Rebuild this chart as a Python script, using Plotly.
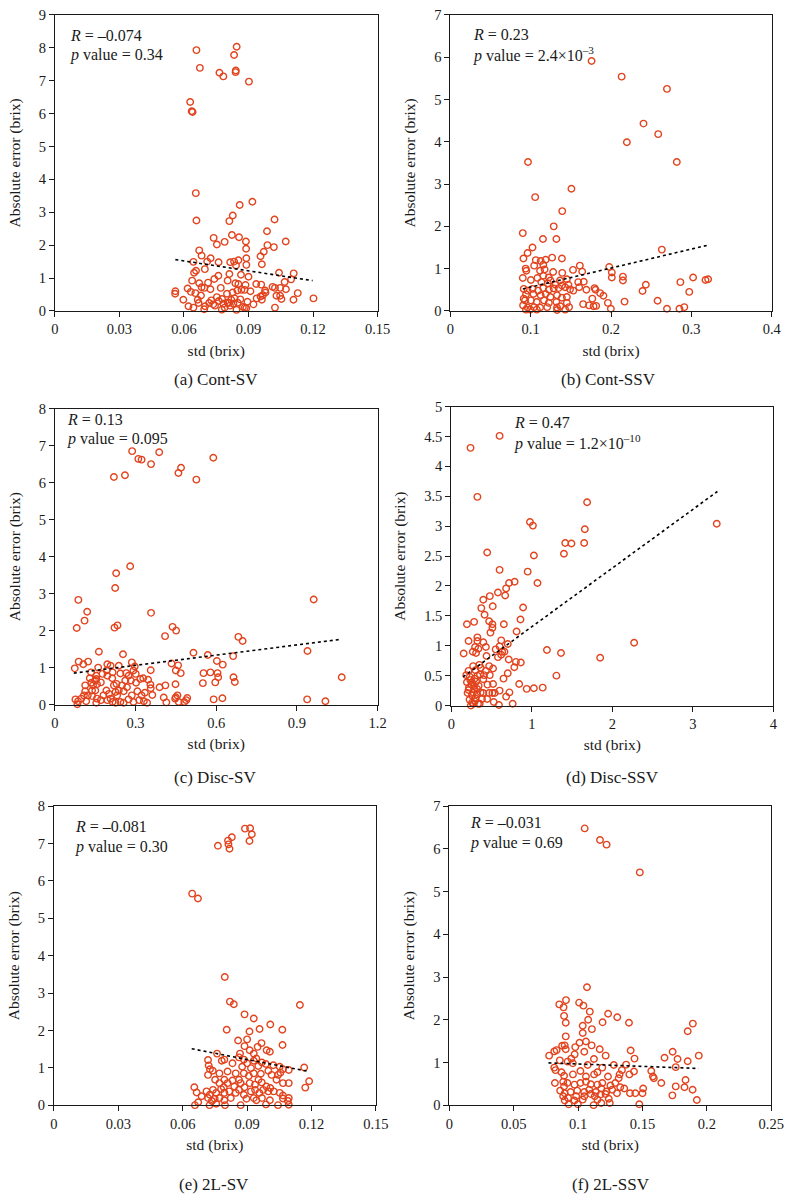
import plotly.graph_objects as go

# ---------------- data ----------------
a_points = [(0.0658,7.93),(0.0674,7.39),(0.0845,8.03),(0.0833,7.78),(0.0841,7.31),(0.0840,7.26),(0.0765,7.24),(0.0783,7.13),(0.0902,6.97),(0.0629,6.35),(0.0636,6.07),(0.0640,6.05),
 (0.0655,3.58),(0.0658,2.75),(0.0859,3.22),(0.0918,3.32),(0.0827,2.90),(0.0811,2.73),(0.1021,2.78),(0.0823,2.31),(0.0738,2.22),(0.0753,2.02),(0.0789,2.10),(0.0856,2.24),(0.0888,2.11),(0.0889,1.89),(0.0986,2.42),(0.0988,2.00),(0.1018,1.94),(0.1073,2.11),
 (0.0671,1.84),(0.0682,1.68),(0.0971,1.80),(0.0956,1.66),(0.0890,1.60),(0.0724,1.60),(0.0708,1.50),(0.0761,1.48),(0.0644,1.49),(0.0815,1.48),(0.0833,1.50),(0.0853,1.54),(0.0962,1.42),(0.0890,1.40),(0.0842,1.38),
 (0.0656,1.22),(0.0647,1.16),(0.0697,1.27),(0.0865,1.10),(0.0900,1.04),(0.0811,1.12),(0.0803,0.92),(0.1042,1.16),(0.1110,1.14),(0.1098,0.96),(0.1068,0.88),(0.0638,0.92),(0.0671,0.84),(0.0712,0.86),(0.0839,0.84),(0.0853,0.82),(0.0741,0.97),(0.0760,1.07),(0.0886,0.79),(0.0936,0.82),(0.0959,0.80),
 (0.0617,0.68),(0.0560,0.60),(0.0559,0.52),(0.0653,0.54),(0.0632,0.58),(0.0682,0.72),(0.0695,0.70),(0.0723,0.66),(0.0771,0.70),(0.0800,0.52),(0.0826,0.56),(0.0848,0.62),(0.0867,0.64),(0.0909,0.60),(0.0882,0.64),(0.0977,0.62),(0.1012,0.73),(0.1023,0.70),(0.1047,0.70),(0.1074,0.66),(0.0979,0.56),(0.0967,0.48),(0.0956,0.44),(0.1030,0.46),(0.1047,0.46),(0.1129,0.54),(0.1202,0.38),(0.1109,0.34),(0.1053,0.36),(0.0962,0.34),(0.0938,0.38),(0.0597,0.34),(0.0679,0.47),
 (0.0621,0.14),(0.0644,0.10),(0.0664,0.34),(0.0668,0.24),(0.0698,0.14),(0.0717,0.24),(0.0727,0.32),(0.0736,0.20),(0.0753,0.42),(0.0762,0.30),(0.0777,0.36),(0.0783,0.22),(0.0803,0.26),(0.0814,0.16),(0.0820,0.34),(0.0830,0.22),(0.0835,0.38),(0.0850,0.25),(0.0862,0.35),(0.0874,0.12),(0.0883,0.10),(0.0890,0.08),(0.0895,0.28),(0.0923,0.20),(0.1023,0.10),(0.0694,0.05),(0.0776,0.04),(0.0844,0.03),(0.0744,0.16),(0.0789,0.10),(0.0809,0.24)]

b_points = [(0.1758,5.91),(0.2132,5.54),(0.2696,5.25),(0.2404,4.43),(0.2587,4.18),(0.2197,3.99),(0.0967,3.52),(0.2818,3.52),(0.1507,2.89),(0.1056,2.69),(0.1393,2.36),(0.1287,2.00),(0.0902,1.84),(0.1153,1.70),(0.1320,1.70),(0.1023,1.50),(0.0962,1.37),(0.2632,1.45),(0.0910,1.24),(0.1267,1.26),(0.1389,1.24),(0.1064,1.20),(0.1186,1.21),(0.1612,1.07),(0.1978,1.04),(0.0938,1.00),(0.0946,0.95),(0.1527,0.97),(0.1641,0.93),(0.2010,0.91),(0.2010,0.79),(0.2148,0.81),(0.2148,0.72),(0.3021,0.79),(0.2863,0.68),(0.3175,0.73),(0.3208,0.75),(0.2433,0.62),(0.2392,0.47),(0.2973,0.45),(0.2579,0.24),(0.2168,0.22),(0.1998,0.05),(0.2696,0.05),(0.2851,0.05),(0.2912,0.09),(0.1961,0.19),
 (0.1125,1.18),(0.1044,1.07),(0.1157,1.09),(0.1117,0.95),(0.1174,0.98),(0.1280,0.92),(0.1393,0.90),(0.0902,0.78),(0.1003,0.73),(0.1084,0.78),(0.1157,0.83),(0.1226,0.79),(0.1246,0.72),(0.1365,0.72),(0.1450,0.75),(0.1133,0.68),(0.1214,0.65),(0.1308,0.62),(0.1389,0.60),(0.1470,0.62),(0.1592,0.68),(0.1661,0.69),(0.1604,0.56),
 (0.0914,0.52),(0.0962,0.48),(0.1023,0.52),(0.1092,0.48),(0.1157,0.54),(0.1226,0.50),(0.1287,0.53),(0.1348,0.54),(0.1429,0.56),(0.1490,0.51),(0.1531,0.48),(0.1693,0.50),(0.1795,0.54),(0.1807,0.50),(0.1864,0.42),(0.1905,0.36),(0.1767,0.29),
 (0.0942,0.39),(0.1035,0.40),(0.1125,0.37),(0.1186,0.40),(0.1246,0.33),(0.1328,0.37),(0.1389,0.31),(0.1450,0.33),(0.0914,0.29),(0.0930,0.25),(0.1003,0.25),(0.1076,0.21),(0.1166,0.25),(0.1226,0.19),(0.1320,0.21),(0.1450,0.19),(0.1653,0.16),(0.1726,0.13),(0.1783,0.11),(0.1815,0.12),
 (0.0906,0.13),(0.0962,0.08),(0.1044,0.09),(0.1117,0.08),(0.1206,0.09),(0.1328,0.08),(0.1369,0.11),(0.1478,0.09),(0.0942,0.03),(0.0995,0.03),(0.1076,0.03),(0.1328,0.02),(0.1429,0.03)]

c_points = [(0.2873,6.85),(0.3879,6.82),(0.3103,6.64),(0.3224,6.62),(0.5891,6.67),(0.3576,6.50),(0.4691,6.40),(0.4594,6.26),(0.2606,6.20),(0.2194,6.15),(0.5261,6.08),(0.2800,3.74),(0.2279,3.55),(0.2242,3.15),(0.0873,2.83),(0.9624,2.84),(0.1200,2.51),(0.3576,2.48),(0.1103,2.27),(0.0812,2.07),(0.2218,2.08),(0.2327,2.14),(0.4376,2.10),(0.4509,2.00),(0.4097,1.85),(0.6824,1.83),(0.6982,1.72),(0.9394,1.45),(1.0667,0.74),(0.1636,1.43),(0.2533,1.36),(0.5152,1.40),(0.5685,1.34),(0.6630,1.31),(0.9382,0.14),(1.0060,0.09),(0.5903,0.14),(0.6230,0.17),
 (0.4339,1.11),(0.4582,1.06),(0.4497,0.92),(0.4679,0.85),(0.6024,1.18),(0.6242,1.08),(0.6048,0.85),(0.5527,0.85),(0.5782,0.87),(0.6073,0.74),(0.6642,0.74),(0.6691,0.61),(0.5964,0.60),(0.5503,0.58),
 (0.3891,0.47),(0.4109,0.52),(0.4485,0.55),(0.4497,0.20),(0.4558,0.25),(0.4473,0.16),(0.4606,0.07),(0.4812,0.07),(0.4885,0.12),(0.4921,0.18),(0.4048,0.19),(0.4145,0.06),(0.3624,0.26),(0.3564,0.44),(0.3467,0.67),(0.3552,0.54),(0.3176,0.69),(0.3285,0.71),(0.3006,0.83),(0.3564,0.93),
 (0.0739,0.98),(0.0885,1.16),(0.1055,1.09),(0.1236,1.16),(0.1610,1.00),(0.1950,1.09),(0.2073,1.05),(0.2376,1.05),(0.2861,1.14),(0.2970,1.03),(0.1927,0.92),(0.2145,0.87),(0.2436,0.84),(0.2655,0.85),(0.2921,0.92),
 (0.0764,0.14),(0.0861,0.09),(0.0836,0.01),(0.0982,0.16),(0.1127,0.52),(0.1127,0.36),(0.1164,0.09),(0.1297,0.71),(0.1358,0.59),(0.1418,0.52),(0.1503,0.65),(0.1539,0.78),(0.1539,0.69),(0.1564,0.55),(0.1503,0.38),(0.1382,0.23),(0.1564,0.16),(0.1539,0.05),(0.1806,0.25),(0.1709,0.12),(0.1915,0.38),(0.2012,0.29),(0.2073,0.16),(0.2145,0.07),(0.2255,0.34),(0.2315,0.25),(0.2376,0.38),(0.2436,0.07),(0.2497,0.52),(0.2558,0.36),(0.2618,0.65),(0.2679,0.47),(0.2739,0.14),(0.2861,0.25),(0.2921,0.07),(0.3018,0.59),(0.3067,0.36),(0.3139,0.12),(0.3224,0.25),(0.3309,0.09),(0.3430,0.05),(0.3345,0.32),(0.1709,0.60),(0.2133,0.71),(0.1952,0.78),(0.1770,0.83),(0.1345,0.87),(0.1382,0.38),(0.1224,0.25),(0.2194,0.52),(0.2291,0.56),(0.2739,0.78),(0.2824,0.65),(0.1952,0.12),(0.2255,0.05),(0.2558,0.05),(0.1079,0.25)]

d_points = [(0.6004,4.51),(0.2394,4.31),(0.3245,3.49),(1.6876,3.40),(0.9777,3.07),(1.0142,3.01),(3.2980,3.04),(1.6592,2.95),(1.4158,2.72),(1.4929,2.71),(1.6511,2.72),(1.3996,2.54),(1.0264,2.51),(0.4462,2.56),(0.6004,2.27),(0.9493,2.24),(1.0710,2.05),(0.7870,2.07),(0.7181,2.05),(0.6815,1.96),(0.5801,1.89),(0.4787,1.83),(0.6694,1.84),(0.3976,1.77),(0.5152,1.66),(0.3732,1.63),(0.8925,1.64),(0.4138,1.52),(0.8600,1.44),(2.2718,1.05),(1.1886,0.93),(1.3631,0.88),(1.8499,0.80),(1.3063,0.50),(0.8438,0.36),(0.9371,0.28),(1.0264,0.29),(1.1359,0.30),(0.8114,1.24),
 (0.1947,1.36),(0.2840,1.40),(0.2150,1.08),(0.1540,0.87),(0.2678,0.90),(0.2961,0.98),(0.3245,1.14),(0.3245,1.08),(0.3083,0.88),(0.3367,0.95),(0.3976,1.06),(0.4300,0.98),(0.4706,1.41),(0.5112,1.36),(0.5112,1.30),(0.4868,1.22),(0.6207,1.09),(0.6531,1.36),(0.7018,1.03),(0.5517,0.94),(0.6004,0.99),(0.6329,0.90),(0.6613,0.90),(0.6207,0.85),(0.5801,0.81),(0.7140,0.77),(0.8032,0.73),(0.8640,0.72),(0.7829,0.64),(0.7018,0.54),(0.6491,0.45),(0.7221,0.22),(0.6815,0.15),
 (0.4381,0.83),(0.4706,0.66),(0.5192,0.62),(0.4300,0.58),(0.4057,0.51),(0.4787,0.51),(0.4503,0.35),(0.5192,0.36),(0.4706,0.21),(0.5112,0.21),(0.5396,0.21),(0.6004,0.25),(0.5274,0.06),(0.5923,0.01),(0.7627,0.03),(0.3489,0.68),(0.3651,0.63),(0.2150,0.58),(0.1866,0.51),(0.1947,0.39),(0.2353,0.43),(0.2718,0.66),(0.3002,0.59),(0.3245,0.50),(0.3570,0.52),(0.3976,0.44),(0.3408,0.33),(0.2840,0.28),(0.2150,0.26),(0.2029,0.21),(0.2556,0.17),(0.3164,0.19),(0.3651,0.22),(0.3976,0.21),(0.2272,0.10),(0.2921,0.07),(0.3326,0.03),(0.2434,0.00),(0.2840,0.33),(0.2556,0.39),(0.3083,0.40),(0.4462,0.11),(0.3530,0.03),(0.3814,0.11),(0.2759,0.03),
 (0.2200,0.30),(0.2500,0.35),(0.2700,0.22),(0.3000,0.12),(0.2600,0.05),(0.3200,0.28),(0.2300,0.48),(0.2900,0.45)]

e_points = [(0.0890,7.40),(0.0914,7.41),(0.0922,7.25),(0.0911,7.07),(0.0829,7.17),(0.0811,7.08),(0.0813,6.98),(0.0818,6.86),(0.0764,6.94),(0.0644,5.66),(0.0671,5.53),(0.0796,3.43),(0.0820,2.77),(0.0838,2.70),(0.1146,2.68),(0.0888,2.43),(0.0931,2.32),(0.1008,2.16),(0.0805,2.02),(0.0958,2.04),(0.1064,2.02),(0.0911,1.97),(0.1065,1.61),
 (0.0900,1.76),(0.0858,1.73),(0.0967,1.66),(0.0949,1.56),(0.0888,1.58),(0.0991,1.47),(0.1006,1.43),(0.0912,1.47),(0.0931,1.38),(0.0867,1.38),(0.0862,1.28),(0.0943,1.25),(0.0969,1.14),(0.0760,1.38),(0.0782,1.19),(0.0794,1.22),(0.0832,1.12),(0.0885,1.22),(0.0900,1.12),(0.0931,1.19),(0.0877,1.03),(0.0918,0.99),(0.0952,1.05),(0.0987,1.10),(0.1022,1.07),(0.1052,1.03),(0.1067,0.96),(0.1094,0.94),(0.1166,1.01),
 (0.0718,1.21),(0.0721,1.06),(0.0727,0.96),(0.0718,0.81),(0.0740,0.92),(0.0771,0.85),(0.0794,0.68),(0.0809,0.90),(0.0847,0.85),(0.0862,0.68),(0.0885,0.85),(0.0908,0.78),(0.0931,0.85),(0.0964,0.84),(0.0999,0.92),(0.1014,0.81),(0.1044,0.81),(0.1055,0.87),(0.1037,0.68),(0.1067,0.59),(0.1094,0.59),(0.1189,0.64),(0.1171,0.47),
 (0.0751,0.68),(0.0771,0.59),(0.0791,0.48),(0.0809,0.59),(0.0832,0.66),(0.0840,0.50),(0.0870,0.59),(0.0888,0.48),(0.0912,0.59),(0.0937,0.55),(0.0953,0.68),(0.0968,0.61),(0.0990,0.50),(0.1008,0.46),(0.1024,0.37),(0.1052,0.33),
 (0.0654,0.48),(0.0665,0.34),(0.0688,0.24),(0.0711,0.37),(0.0726,0.28),(0.0741,0.41),(0.0756,0.33),(0.0779,0.43),(0.0794,0.33),(0.0817,0.37),(0.0847,0.33),(0.0862,0.41),(0.0885,0.28),(0.0918,0.37),(0.0937,0.41),(0.0957,0.33),(0.0975,0.41),(0.0999,0.37),(0.1067,0.26),(0.1094,0.19),
 (0.0718,0.19),(0.0749,0.17),(0.0771,0.19),(0.0794,0.13),(0.0824,0.19),(0.0897,0.17),(0.0931,0.19),(0.0943,0.13),(0.0969,0.19),(0.1006,0.13),(0.1067,0.18),(0.1090,0.11),(0.0657,0.00),(0.0725,0.00),(0.0756,0.04),(0.0797,0.00),(0.0870,0.00),(0.0988,0.02),(0.1044,0.00),(0.1094,0.01),(0.0672,0.08),(0.0736,0.11)]

f_points = [(0.1051,6.48),(0.1170,6.21),(0.1221,6.10),(0.1479,5.45),(0.1069,2.76),
 (0.0854,2.36),(0.0906,2.46),(0.0887,2.29),(0.1008,2.40),(0.1041,2.33),(0.0891,2.09),(0.0904,1.93),(0.1091,2.19),(0.1078,2.00),(0.1233,2.14),(0.1304,2.06),(0.1395,1.93),(0.1190,1.94),(0.1036,1.86),(0.1107,1.78),(0.1036,1.69),(0.0904,1.61),(0.1061,1.49),(0.1011,1.46),(0.1105,1.40),(0.0896,1.40),(0.0876,1.39),(0.0978,1.36),(0.0904,1.31),(0.1048,1.25),(0.1168,1.31),(0.1214,1.16),(0.1123,1.08),(0.0973,1.19),(0.0947,1.09),(0.0833,1.29),(0.0815,1.26),(0.0775,1.16),(0.1408,1.28),(0.1438,1.09),(0.1734,1.25),(0.1671,1.11),(0.1772,1.08),(0.1851,1.03),(0.1851,1.73),(0.1891,1.91),(0.1937,1.16),
 (0.0858,1.05),(0.0919,1.02),(0.0959,0.98),(0.1074,0.94),(0.1188,0.88),(0.1277,0.94),(0.1373,0.95),(0.1758,0.89),(0.0815,0.88),(0.0825,0.82),(0.0871,0.77),(0.0891,0.69),(0.0960,0.72),(0.1018,0.80),(0.1061,0.67),(0.1124,0.72),(0.1150,0.77),(0.1232,0.67),(0.1315,0.63),(0.1322,0.72),(0.1340,0.82),(0.1398,0.72),(0.1434,0.79),(0.1568,0.80),(0.1581,0.67),(0.1588,0.63),(0.1646,0.52),(0.1732,0.23),(0.1758,0.44),(0.1834,0.59),(0.1826,0.42),(0.1889,0.36),(0.1922,0.12),(0.1505,0.39),(0.1500,0.28),(0.1444,0.28),(0.1403,0.28),(0.1475,0.02),
 (0.0820,0.52),(0.0884,0.55),(0.0917,0.52),(0.0891,0.44),(0.0972,0.48),(0.1018,0.52),(0.1061,0.55),(0.1099,0.49),(0.1150,0.48),(0.1188,0.52),(0.1251,0.46),(0.1289,0.52),(0.1327,0.42),(0.1358,0.39),
 (0.0861,0.34),(0.0896,0.28),(0.0942,0.31),(0.0993,0.34),(0.1048,0.31),(0.1086,0.36),(0.1137,0.31),(0.1180,0.39),(0.1221,0.32),(0.1264,0.36),(0.1302,0.28),(0.0884,0.21),(0.0922,0.17),(0.0985,0.21),(0.1048,0.21),(0.1099,0.26),(0.1129,0.21),(0.1175,0.25),(0.1213,0.26),(0.1238,0.15),(0.0896,0.11),(0.0972,0.11),(0.1036,0.13),(0.1150,0.13),(0.1246,0.05),(0.0927,0.02),(0.0998,0.02),(0.1120,0.00),(0.1180,0.05)]

# fitted trend lines (end points)
trend_x = {"a": [0.056, 0.1198], "b": [0.0902, 0.3216], "c": [0.0703, 1.0606],
           "d": [0.146, 3.306], "e": [0.0642, 0.1189], "f": [0.077, 0.1935]}
trend_y = {"a": [1.56, 0.92], "b": [0.52, 1.56], "c": [0.85, 1.76],
           "d": [0.48, 3.58], "e": [1.51, 0.90], "f": [0.99, 0.86]}

r_text = {"a": "–0.074", "b": "0.23", "c": "0.13", "d": "0.47", "e": "–0.081", "f": "–0.031"}
p_text = {"a": "0.34", "b": "2.4×10<sup>–3</sup>", "c": "0.095", "d": "1.2×10<sup>–10</sup>",
          "e": "0.30", "f": "0.69"}
captions = {"a": "(a) Cont-SV", "b": "(b) Cont-SSV", "c": "(c) Disc-SV",
            "d": "(d) Disc-SSV", "e": "(e) 2L-SV", "f": "(f) 2L-SSV"}

x_ticks = {"a": [0, 0.03, 0.06, 0.09, 0.12, 0.15], "b": [0, 0.1, 0.2, 0.3, 0.4],
           "c": [0, 0.3, 0.6, 0.9, 1.2], "d": [0, 1, 2, 3, 4],
           "e": [0, 0.03, 0.06, 0.09, 0.12, 0.15], "f": [0, 0.05, 0.1, 0.15, 0.2, 0.25]}
x_tick_labels = {"a": ["0", "0.03", "0.06", "0.09", "0.12", "0.15"], "b": ["0", "0.1", "0.2", "0.3", "0.4"],
                 "c": ["0", "0.3", "0.6", "0.9", "1.2"], "d": ["0", "1", "2", "3", "4"],
                 "e": ["0", "0.03", "0.06", "0.09", "0.12", "0.15"], "f": ["0", "0.05", "0.1", "0.15", "0.2", "0.25"]}
y_ticks = {"a": list(range(10)), "b": list(range(8)), "c": list(range(9)),
           "d": [0, 0.5, 1, 1.5, 2, 2.5, 3, 3.5, 4, 4.5, 5], "e": list(range(9)), "f": list(range(8))}
y_tick_labels = {"a": [str(v) for v in range(10)], "b": [str(v) for v in range(8)],
                 "c": [str(v) for v in range(9)],
                 "d": ["0", "0.5", "1", "1.5", "2", "2.5", "3", "3.5", "4", "4.5", "5"],
                 "e": [str(v) for v in range(9)], "f": [str(v) for v in range(8)]}

points = {"a": a_points, "b": b_points, "c": c_points, "d": d_points, "e": e_points, "f": f_points}

# ---------------- layout geometry (pixels) ----------------
W, H = 798, 1200
# plot areas: left, right, top, bottom
boxes = {"a": (52, 381.7, 7, 307), "b": (456, 784.5, 7, 307),
         "c": (52, 381.7, 406, 706), "d": (457, 786, 404, 707),
         "e": (51, 380, 809, 1112), "f": (455, 784, 809, 1112)}
ann_pos = {"a": (65, 28), "b": (477, 27), "c": (62, 417), "d": (519, 420), "e": (71, 830), "f": (474, 826)}
cap_pos = {"a": (217, 377), "b": (618, 377), "c": (216, 780), "d": (622, 780), "e": (215, 1192), "f": (620, 1192)}

FONT = "Liberation Serif, Times New Roman, serif"
RED = "#E2431D"
INK = "#1a1a1a"

fig = go.Figure()
layout = dict(width=W, height=H, margin=dict(l=0, r=0, t=0, b=0),
              paper_bgcolor="white", plot_bgcolor="white", showlegend=False,
              font=dict(family=FONT, size=14, color=INK))
annotations = []

for i, k in enumerate(["a", "b", "c", "d", "e", "f"]):
    n = i + 1
    xa = "x" if n == 1 else f"x{n}"
    ya = "y" if n == 1 else f"y{n}"
    xs = [p[0] for p in points[k]]
    ys = [p[1] for p in points[k]]
    fig.add_trace(go.Scatter(x=xs, y=ys, mode="markers", xaxis=xa, yaxis=ya, cliponaxis=False,
                             marker=dict(symbol="circle-open", size=6.5, color=RED,
                                         line=dict(width=1.4, color=RED))))
    fig.add_trace(go.Scatter(x=trend_x[k], y=trend_y[k], mode="lines", xaxis=xa, yaxis=ya,
                             line=dict(color="black", width=1.6, dash="dot")))
    l, r, t, b = boxes[k]
    common = dict(showline=True, mirror=True, linecolor=INK, linewidth=1,
                  ticks="outside", ticklen=5, tickwidth=1, tickcolor=INK,
                  showgrid=False, zeroline=False, tickfont=dict(family=FONT, size=14.5, color=INK))
    layout["xaxis" if n == 1 else f"xaxis{n}"] = dict(
        domain=[l / W, r / W], anchor=ya, range=[0, x_ticks[k][-1]],
        tickmode="array", tickvals=x_ticks[k], ticktext=x_tick_labels[k],
        title=dict(text="std (brix)", font=dict(family=FONT, size=15.5, color=INK), standoff=8),
        **common)
    layout["yaxis" if n == 1 else f"yaxis{n}"] = dict(
        domain=[1 - b / H, 1 - t / H], anchor=xa, range=[0, y_ticks[k][-1]],
        tickmode="array", tickvals=y_ticks[k], ticktext=y_tick_labels[k],
        title=dict(text="Absolute error (brix)", font=dict(family=FONT, size=15.5, color=INK), standoff=14),
        **common)
    ax, ay = ann_pos[k]
    annotations.append(dict(x=ax / W, y=1 - ay / H, xref="paper", yref="paper", xanchor="left",
                            yanchor="middle", showarrow=False, text=f"<i>R</i> = {r_text[k]}",
                            font=dict(family=FONT, size=16, color=INK)))
    annotations.append(dict(x=ax / W, y=1 - (ay + 20) / H, xref="paper", yref="paper", xanchor="left",
                            yanchor="middle", showarrow=False, text=f"<i>p</i> value = {p_text[k]}",
                            font=dict(family=FONT, size=16, color=INK)))
    cx, cy = cap_pos[k]
    annotations.append(dict(x=cx / W, y=1 - cy / H, xref="paper", yref="paper", xanchor="center",
                            yanchor="middle", showarrow=False, text=captions[k],
                            font=dict(family=FONT, size=17, color=INK)))

layout["annotations"] = annotations
fig.update_layout(**layout)
fig.write_html("out.html", config={"displayModeBar": False},
               post_script="document.body.style.margin='0px';document.body.style.padding='0px';")
